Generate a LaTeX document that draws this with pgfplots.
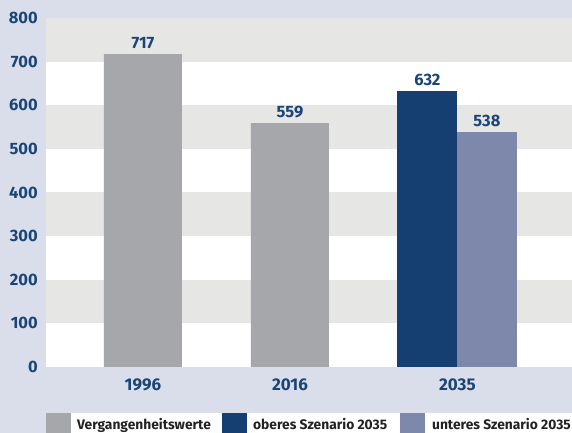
\documentclass[border=0pt]{standalone}
\usepackage{pgfplots}
\pgfplotsset{compat=1.18}
\usepackage{fontspec}
\setmainfont{Fira Sans}
\definecolor{bgblue}{HTML}{DADEEA}
\definecolor{band}{HTML}{E6E6E4}
\definecolor{bargrey}{HTML}{A6A7AB}
\definecolor{navy}{HTML}{143F70}
\definecolor{peri}{HTML}{7E88AB}
\definecolor{ticknavy}{HTML}{1B4577}
\definecolor{legtext}{HTML}{222222}
\begin{document}
\begin{tikzpicture}[x=1pt,y=1pt]
\fill[bgblue] (0,0) rectangle (572,433);
\begin{axis}[
  at={(46pt,66pt)}, anchor=south west,
  scale only axis, width=526pt, height=349pt,
  xmin=46, xmax=572, ymin=0, ymax=800,
  ytick={0,100,...,800},
  xtick={143,290,457.5}, xticklabels={1996,2016,2035},
  axis line style={draw=none},
  major tick length=0pt,
  axis background/.style={fill=white},
  /pgf/number format/assume math mode=true,
  yticklabel style={font=\bfseries\fontsize{16.5}{16.5}\selectfont, text=ticknavy, anchor=east, inner sep=0pt, xshift=-8pt},
  xticklabel style={font=\bfseries\fontsize{17}{17}\selectfont, text=ticknavy, anchor=north, inner sep=0pt, yshift=-11.5pt},
  every node near coord/.append style={font=\bfseries\fontsize{16.5}{16.5}\selectfont, text=ticknavy, anchor=south, inner sep=0pt, yshift=5pt},
  clip=false,
]
\fill[band] (axis cs:46,100) rectangle (axis cs:572,200);
\fill[band] (axis cs:46,300) rectangle (axis cs:572,400);
\fill[band] (axis cs:46,500) rectangle (axis cs:572,600);
\fill[band] (axis cs:46,700) rectangle (axis cs:572,800);
\addplot[ybar, bar width=78, bar shift=0pt, fill=bargrey, draw=none, nodes near coords] coordinates {(143,717) (290,559)};
\addplot[ybar, bar width=60, bar shift=0pt, fill=navy, draw=none, nodes near coords] coordinates {(427.5,632)};
\addplot[ybar, bar width=60, bar shift=0pt, fill=peri, draw=none, nodes near coords] coordinates {(487,538)};
\end{axis}
% legend
\fill[bargrey] (46,0) rectangle (71,20);
\fill[white] (71,0) rectangle (222,20);
\fill[navy] (222,0) rectangle (247,20);
\fill[white] (247,0) rectangle (400,20);
\fill[peri] (400,0) rectangle (425,20);
\fill[white] (425,0) rectangle (572,20);
\begin{scope}[every node/.style={anchor=base west, inner sep=0pt, text=legtext, font=\bfseries\fontsize{13.8}{13.8}\selectfont}]
\node at (77,3) {Vergangenheitswerte};
\node at (253,3) {oberes Szenario 2035};
\node at (432,3) {unteres Szenario 2035};
\end{scope}
\end{tikzpicture}
\end{document}
